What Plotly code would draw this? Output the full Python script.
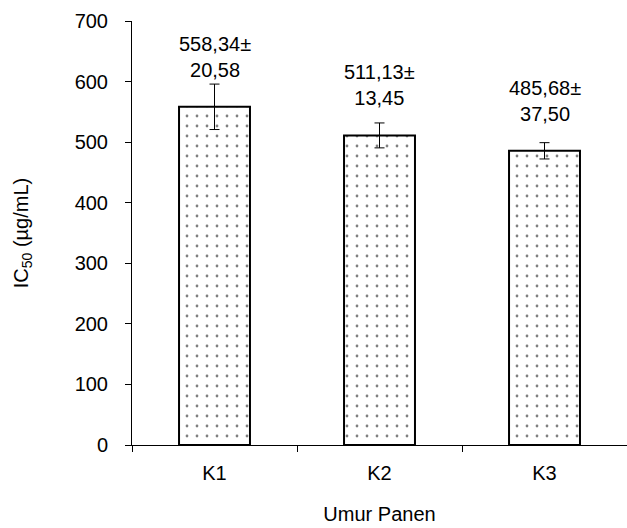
import plotly.graph_objects as go

categories = ["K1", "K2", "K3"]
ic50_values = [558.34, 511.13, 485.68]
error_values = [37.50, 20.58, 13.45]
label_texts = ["558,34±<br>20,58", "511,13±<br>13,45", "485,68±<br>37,50"]
y_ticks = [0, 100, 200, 300, 400, 500, 600, 700]

FONT = "Liberation Sans, Arial, sans-serif"

fig = go.Figure()
fig.add_trace(go.Bar(
    x=categories,
    y=ic50_values,
    width=0.43,
    marker=dict(
        color="white",
        line=dict(color="black", width=2),
        pattern=dict(shape=".", fgcolor="black", bgcolor="white", size=10, solidity=0.06),
    ),
    error_y=dict(type="data", array=error_values, visible=True, color="black", thickness=1, width=5),
    showlegend=False,
))

for c, v, t in zip(categories, ic50_values, label_texts):
    fig.add_annotation(x=c, y=v, text=t, showarrow=False, yanchor="bottom", yshift=24,
                       font=dict(family=FONT, size=20, color="black"))

fig.update_layout(
    width=627, height=528,
    margin=dict(l=132, r=0, t=21, b=83),
    paper_bgcolor="white", plot_bgcolor="white",
    font=dict(family=FONT, size=20, color="black"),
)
fig.update_xaxes(
    range=[-0.5, 2.5], showline=True, linecolor="black", linewidth=1,
    ticks="outside", tickson="boundaries", ticklen=6, tickcolor="black",
    ticklabelstandoff=10, showgrid=False,
    title=dict(text="Umur Panen", font=dict(family=FONT, size=20), standoff=23),
)
fig.update_yaxes(
    range=[0, 700], tickvals=y_ticks, showline=True, linecolor="black", linewidth=1,
    ticks="outside", ticklen=6, tickcolor="black", ticklabelstandoff=13,
    showgrid=False, zeroline=False,
    title=dict(text="IC<sub>50</sub> (µg/mL)", font=dict(family=FONT, size=20), standoff=40),
)

fig.write_html("out.html", config={"displayModeBar": False},
               post_script="document.body.style.margin='0';")
